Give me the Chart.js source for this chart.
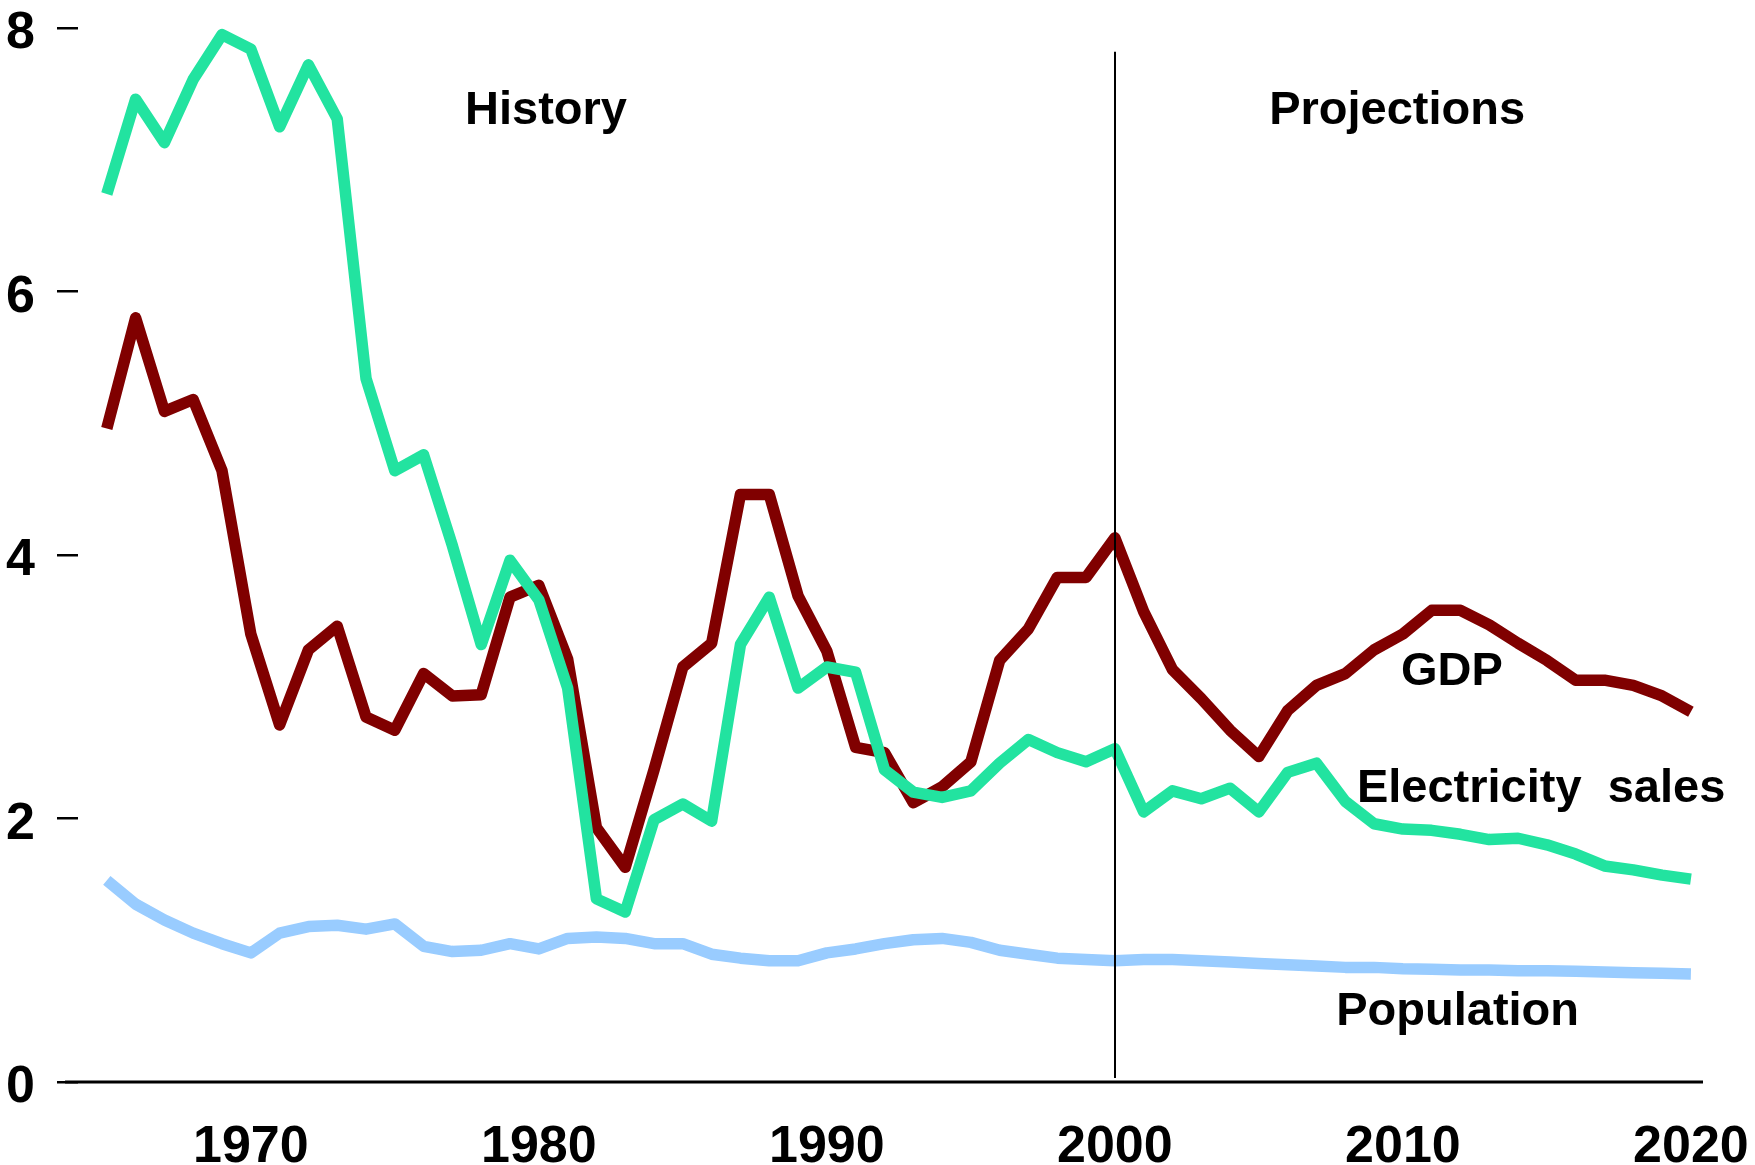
<!DOCTYPE html>
<html>
<head>
<meta charset="utf-8">
<script src="https://cdn.jsdelivr.net/npm/chart.js@4/dist/chart.umd.min.js"></script>
<style>
  html, body { margin: 0; padding: 0; background: #ffffff; }
  #wrap { width: 1755px; height: 1165px; position: relative; }
</style>
</head>
<body>
<div id="wrap"><canvas id="c" width="1755" height="1165"></canvas></div>
<script>
const years = [1965,1966,1967,1968,1969,1970,1971,1972,1973,1974,1975,1976,1977,1978,1979,1980,1981,1982,1983,1984,1985,1986,1987,1988,1989,1990,1991,1992,1993,1994,1995,1996,1997,1998,1999,2000,2001,2002,2003,2004,2005,2006,2007,2008,2009,2010,2011,2012,2013,2014,2015,2016,2017,2018,2019,2020];

const electricitySales = [6.74,7.46,7.13,7.61,7.95,7.84,7.25,7.72,7.31,5.34,4.64,4.76,4.07,3.32,3.96,3.66,2.99,1.39,1.29,1.99,2.11,1.98,3.32,3.68,2.99,3.15,3.11,2.37,2.20,2.16,2.21,2.42,2.60,2.50,2.43,2.53,2.05,2.21,2.15,2.23,2.05,2.35,2.42,2.13,1.96,1.92,1.91,1.88,1.84,1.85,1.80,1.73,1.64,1.61,1.57,1.54];

const gdp = [4.96,5.80,5.09,5.18,4.64,3.40,2.71,3.28,3.46,2.77,2.67,3.10,2.93,2.94,3.68,3.77,3.21,1.93,1.63,2.37,3.15,3.33,4.46,4.46,3.69,3.27,2.54,2.50,2.12,2.24,2.43,3.20,3.44,3.83,3.83,4.13,3.57,3.13,2.91,2.67,2.47,2.82,3.01,3.10,3.28,3.40,3.58,3.58,3.47,3.33,3.20,3.05,3.05,3.01,2.93,2.81];

const population = [1.53,1.35,1.23,1.13,1.05,0.98,1.13,1.18,1.19,1.16,1.20,1.03,0.99,1.00,1.05,1.01,1.09,1.10,1.09,1.05,1.05,0.97,0.94,0.92,0.92,0.98,1.01,1.05,1.08,1.09,1.06,1.00,0.97,0.94,0.93,0.92,0.93,0.93,0.92,0.91,0.90,0.89,0.88,0.87,0.87,0.86,0.855,0.85,0.85,0.845,0.845,0.84,0.835,0.83,0.825,0.82];

const xTickValues = [1970,1980,1990,2000,2010,2020];
const yTickValues = [0,2,4,6,8];

const annotations = [
  { text: 'History', x: 1980.25, y: 7.37 },
  { text: 'Projections', x: 2009.8, y: 7.37 },
  { text: 'GDP', x: 2011.7, y: 3.11 },
  { text: 'Electricity  sales', x: 2014.8, y: 2.22 },
  { text: 'Population', x: 2011.9, y: 0.53 }
];
const dividerYear = 2000;
const dividerTop = 7.82;

const FONT = '"Liberation Sans", Arial, Helvetica, sans-serif';

function toPoints(vals) { return years.map((yr, i) => ({ x: yr, y: vals[i] })); }

function zeroPad(s) { s.paddingLeft = 0; s.paddingRight = 0; s.paddingTop = 0; s.paddingBottom = 0; }

const overlay = {
  id: 'overlay',
  afterDatasetsDraw(chart) {
    const { ctx, scales: { x, y } } = chart;
    ctx.save();
    ctx.strokeStyle = '#000';
    ctx.lineWidth = 3;
    ctx.beginPath();
    ctx.moveTo(x.getPixelForValue(1963.55), y.getPixelForValue(0));
    ctx.lineTo(x.getPixelForValue(2020.42), y.getPixelForValue(0));
    ctx.stroke();
    ctx.lineWidth = 2;
    ctx.beginPath();
    const dx = Math.round(x.getPixelForValue(dividerYear));
    ctx.moveTo(dx, y.getPixelForValue(dividerTop));
    ctx.lineTo(dx, y.getPixelForValue(0) - 4);
    ctx.stroke();
    ctx.fillStyle = '#000';
    ctx.font = 'bold 47px ' + FONT;
    ctx.textAlign = 'center';
    ctx.textBaseline = 'middle';
    annotations.forEach(a => {
      ctx.fillText(a.text, x.getPixelForValue(a.x), y.getPixelForValue(a.y));
    });
    ctx.restore();
  }
};

new Chart(document.getElementById('c'), {
  type: 'line',
  data: {
    datasets: [
      { label: 'Electricity sales', data: toPoints(electricitySales), borderColor: '#22e3a0', borderWidth: 11.5 },
      { label: 'GDP', data: toPoints(gdp), borderColor: '#800000', borderWidth: 11.5 },
      { label: 'Population', data: toPoints(population), borderColor: '#99ccff', borderWidth: 11.5 }
    ]
  },
  options: {
    responsive: false,
    animation: false,
    devicePixelRatio: 1,
    layout: { padding: { left: 0, right: 52, top: 28, bottom: 0 } },
    elements: {
      point: { radius: 0, hoverRadius: 0 },
      line: { tension: 0, fill: false, borderJoinStyle: 'round', borderCapStyle: 'butt' }
    },
    datasets: { line: { clip: false } },
    plugins: { legend: { display: false }, tooltip: { enabled: false } },
    scales: {
      x: {
        type: 'linear',
        min: 1964,
        max: 2020.42,
        border: { display: false },
        grid: { display: false },
        afterBuildTicks: (s) => { s.ticks = xTickValues.map(v => ({ value: v })); },
        afterFit: (s) => { s.height = 83; zeroPad(s); },
        ticks: {
          padding: 26,
          color: '#000',
          font: { family: FONT, size: 52, weight: 'bold' },
          maxRotation: 0,
          autoSkip: false,
          callback: (v) => String(v)
        }
      },
      y: {
        type: 'linear',
        min: 0,
        max: 8,
        border: { display: false },
        grid: { display: true, drawOnChartArea: false, drawTicks: true, tickLength: 21, color: '#000', lineWidth: 2.5 },
        afterBuildTicks: (s) => { s.ticks = yTickValues.map(v => ({ value: v })); },
        afterFit: (s) => { s.width = 78; zeroPad(s); },
        ticks: {
          padding: 22,
          labelOffset: 6,
          color: '#000',
          font: { family: FONT, size: 52, weight: 'bold' },
          callback: (v) => String(v)
        }
      }
    }
  },
  plugins: [overlay]
});
</script>
</body>
</html>
